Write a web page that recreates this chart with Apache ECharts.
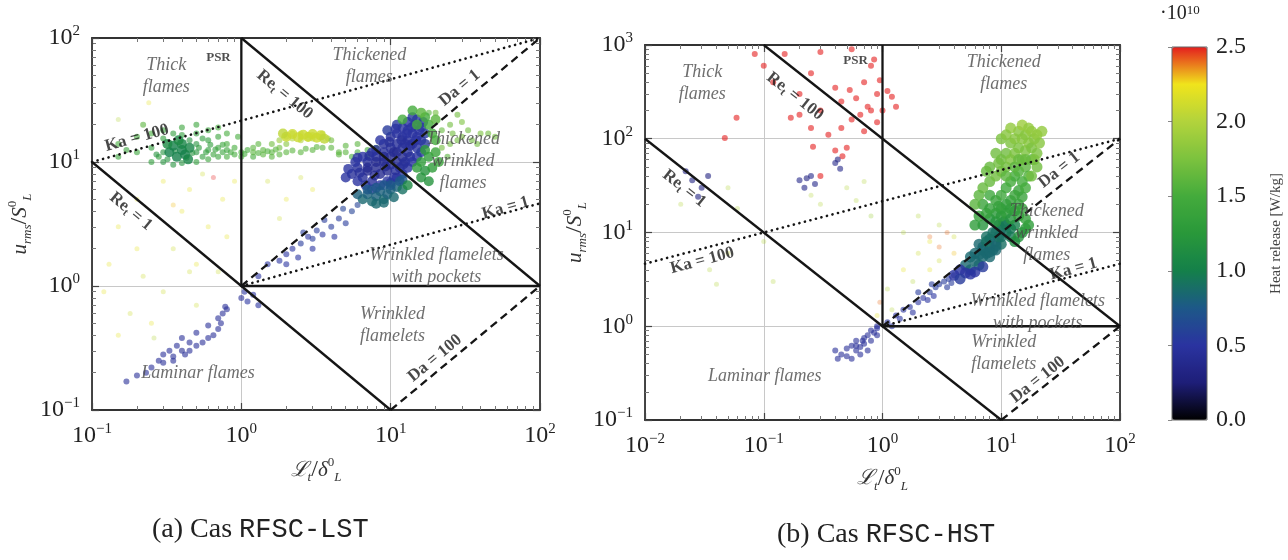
<!DOCTYPE html>
<html><head><meta charset="utf-8">
<script src="https://cdn.jsdelivr.net/npm/echarts@6/dist/echarts.min.js"></script>
<style>html,body{margin:0;padding:0;background:#fff}#c{width:1288px;height:560px}</style>
</head><body><div id="c"></div>
<script>
// ---------------- DATA ----------------
// axis ranges (log scale)
const xRangeA = [0.1, 100], yRangeA = [0.1, 100];
const xRangeB = [0.01, 100], yRangeB = [0.1, 1000];
const heatRange = [0, 2.5];          // heat release, x 1e10 W/kg
const heatTicks = [0, 0.5, 1, 1.5, 2, 2.5];

// regime boundaries: [name, dash, [[x,y],[x,y]]]
const boundariesA = [
  ['Re_t = 1', 'solid', [[0.1, 10], [10, 0.1]]],
  ['Re_t = 100', 'solid', [[1, 100], [100, 1]]],
  ['PSR', 'solid', [[1, 1], [1, 100]]],
  ['flamelet', 'solid', [[1, 1], [100, 1]]],
  ['Da = 1', 'dashed', [[1, 1], [100, 100]]],
  ['Da = 100', 'dashed', [[10, 0.1], [100, 1]]],
  ['Ka = 1', 'dotted', [[1, 1], [100, 4.64]]],
  ['Ka = 100', 'dotted', [[0.1, 10], [100, 100]]]
];
const boundariesB = [
  ['Re_t = 1', 'solid', [[0.01, 100], [10, 0.1]]],
  ['Re_t = 100', 'solid', [[0.1, 1000], [100, 1]]],
  ['PSR', 'solid', [[1, 1], [1, 1000]]],
  ['flamelet', 'solid', [[1, 1], [100, 1]]],
  ['Da = 1', 'dashed', [[1, 1], [100, 100]]],
  ['Da = 100', 'dashed', [[10, 0.1], [100, 1]]],
  ['Ka = 1', 'dotted', [[1, 1], [100, 4.64]]],
  ['Ka = 100', 'dotted', [[0.01, 4.64], [100, 100]]]
];

// regime labels: [text, x, y, kind]
const labelsA = [
  ['Thick\nflames', 0.314, 49, 'regime'],
  ['PSR', 0.703, 69, 'psr'],
  ['Thickened\nflames', 7.2, 59, 'regime'],
  ['Re{s|t} = 100', 1.95, 34.9, 're'],
  ['Re{s|t} = 1', 0.182, 3.99, 're'],
  ['Ka = 100', 0.2, 15.6, 'ka'],
  ['Da = 1', 29, 39.5, 'da'],
  ['Thickened\nwrinkled\nflames', 30.5, 10.1, 'regime'],
  ['Ka = 1', 58.8, 4.25, 'ka'],
  ['Wrinkled flamelets\nwith pockets', 20.3, 1.44, 'regime'],
  ['Wrinkled\nflamelets', 10.3, 0.485, 'regime'],
  ['Da = 100', 19.8, 0.261, 'da'],
  ['Laminar flames', 0.513, 0.198, 'regime']
];
const labelsB = [
  ['Thick\nflames', 0.0303, 394, 'regime'],
  ['PSR', 0.594, 683, 'psr'],
  ['Thickened\nflames', 10.5, 505, 'regime'],
  ['Re{s|t} = 100', 0.183, 284, 're'],
  ['Re{s|t} = 1', 0.0214, 29.4, 're'],
  ['Ka = 100', 0.0303, 5.0, 'ka'],
  ['Da = 1', 30.8, 46.3, 'da'],
  ['Thickened\nwrinkled\nflames', 24.2, 9.7, 'regime'],
  ['Ka = 1', 40.6, 4.07, 'ka'],
  ['Wrinkled flamelets\nwith pockets', 20.3, 1.4, 'regime'],
  ['Wrinkled\nflamelets', 10.5, 0.52, 'regime'],
  ['Da = 100', 20.3, 0.268, 'da'],
  ['Laminar flames', 0.102, 0.292, 'regime']
];

// ---- case (a) RFSC-LST points: [Lt/dL, urms/SL, heat release] ----
const coreA = [
  [5.5,8,0.45],[6,9,0.45],[6.5,7.5,0.45],[7,8.5,0.4],[7,10,0.45],[7.5,7,0.45],[8,9,0.4],[8,11,0.45],[8.5,8,0.4],[9,10,0.4],
  [9,12,0.45],[9.5,8.5,0.4],[10,9.5,0.4],[10,11,0.4],[10,13,0.45],[10.5,7.5,0.45],[11,10,0.4],[11,12,0.4],[11,14,0.45],[11.5,9,0.45],
  [12,11,0.4],[12,13,0.45],[12,16,0.45],[12.5,10,0.45],[13,12,0.45],[13,15,0.45],[13,18,0.5],[13.5,11,0.45],[14,14,0.45],[14,17,0.5],
  [14.5,20,0.5],[15,13,0.5],[15,16,0.5],[16,15,0.5],[16,19,0.55],[17,14,0.55],[17,17,0.55],[6,7,0.5],[6.8,6.5,0.5],[7.5,6,0.55],
  [8.5,6.5,0.5],[9.5,7,0.5],[10,6.8,0.55],[11,7.5,0.5],[12,8,0.5],[13,9,0.5],[14,10,0.5],[15,11,0.5],[16,12,0.55],[8,12.5,0.45],
  [9,14,0.45],[10,16,0.45],[11,17,0.5],[12,19,0.5],[13,21,0.5],[14,23,0.55],[15,22,0.55],[5,7.5,0.5],[5.8,10,0.5],[6.5,11,0.5],
  [7.5,12,0.5],[8.5,15,0.5],[9.5,18,0.55],[11,20,0.55],[12.5,14,0.45],[10.5,12,0.4],[9,11,0.4],[8,10,0.4],[7,9,0.4],
  [6.2,8.2,0.45],[7.8,7.8,0.4],[9.2,9.2,0.4],[10.8,8.6,0.45],[12.2,9.6,0.45],[13.5,13.5,0.45],[14.8,15,0.5],[15.5,18,0.5],[11.8,15,0.45],[9.8,14.5,0.45],
  [5.2,8.8,0.5],[6,10.8,0.5],[7.2,11.2,0.45],[16.5,21,0.55],[13.8,19,0.5],[12.8,17,0.5],[10.8,18.5,0.5],
  [6.5,5,0.85],[7,5.5,0.8],[7.5,4.8,0.85],[8,5.3,0.8],[8.5,5.8,0.8],[9,5,0.85],[9.5,5.5,0.8],[10,6,0.8],[10.5,5.2,0.85],[11,6.3,0.8],
  [7,6,0.75],[8,6.2,0.75],[9,6.5,0.75],[10,6.5,0.75],[11.5,7,0.75],[12,7.2,0.75],[6,5.5,0.8],[8,4.6,0.85],[9,4.7,0.85],[12,6,0.9],
  [15,9,1.3],[16,10,1.3],[17,8.5,1.2],[18,11,1.3],[19,9,1.3],[20,12,1.4],[18,7,1.2],[17,12.5,1.3],[20,15,1.5],[21,10,1.4],
  [16,7.5,1.2],[15,20,1.5],[18,20,1.5],[20,22,1.6],[17,23,1.5],[19,17,1.5],[14,26,1.5],[16,25,1.6],[12,22,1.5],[13,6.5,1.1],
  [0.33,12,1.0],[0.35,13.5,1.0],[0.37,11,1.0],[0.4,12.5,1.0],[0.4,14,1.05],[0.42,11.5,1.0],[0.45,13,1.05],[0.38,15,1.1],[0.32,14,1.1],[0.44,10.5,1.05],
  [2,16,2.1],[2.2,16.8,2.1],[2.4,15.8,2.1],[2.6,16.6,2.1],[2.8,15.9,2.1],[3,16.8,2.1],[3.2,15.7,2.1],[3.4,16.4,2.1],[1.9,17,2.05],[3.6,15.4,2.05]
];
const sparseA = [
  [0.15,11,1.4],[0.15,14,1.5],[0.17,12.5,1.4],[0.2,12,1.4],[0.2,16,1.5],[0.22,20,1.6],[0.25,10,1.3],[0.25,13,1.3],[0.25,17,1.5],[0.28,11,1.3],
  [0.3,10,1.2],[0.3,12,1.2],[0.3,15.5,1.3],[0.3,18,1.4],[0.35,9.5,1.2],[0.35,17,1.3],[0.4,9.8,1.2],[0.4,16.5,1.3],[0.4,19,1.4],[0.45,15,1.2],
  [0.5,10,1.3],[0.5,12,1.2],[0.5,14,1.2],[0.5,17,1.3],[0.5,20,1.4],[0.55,11,1.3],[0.55,15.5,1.3],[0.6,10.5,1.4],[0.6,12.5,1.3],[0.6,15,1.3],
  [0.6,18,1.4],[0.65,11.5,1.4],[0.7,11,1.4],[0.7,13,1.4],[0.7,16,1.4],[0.7,19,1.5],[0.75,12,1.4],[0.8,11,1.5],[0.8,12.5,1.4],[0.8,14,1.5],
  [0.8,17,1.5],[0.9,11.5,1.5],[0.9,13,1.5],[1,11,1.5],[1,12,1.5],[1.1,12.5,1.5],[1.2,11,1.5],[1.2,12,1.6],[1.2,13,1.6],[1.4,11.5,1.6],
  [1.4,12.5,1.6],[1.6,11,1.6],[1.6,12,1.6],[1.6,14,1.7],[1.8,11.5,1.6],[1.8,13,1.7],[1.8,15,1.9],[2,12,1.6],[2,14,1.8],[2,16,2.0],
  [2.2,15.5,2.0],[2.2,17,2.0],[2.5,15,2.0],[2.5,16,2.0],[2.5,17,2.05],[2.5,12,1.6],[2.8,16.5,2.0],[2.8,15.5,2.0],[3,15.5,2.0],[3,16.5,2.05],
  [3,12.5,1.6],[3.3,16,2.0],[3.5,16,2.0],[3.5,17,2.0],[3.5,13,1.6],[3.8,15.5,1.95],[4,13,1.6],[4,15,1.7],[4.5,12,1.6],[5,12,1.6],
  [5,13.5,1.6],[5.5,11,1.5],[6,12,1.5],[6,14,1.6],[7,12.5,1.5],[7,11,1.5],[8,13,1.5],[4.5,11.5,1.6],[1.3,14,1.6],[0.95,16,1.5],
  [0.27,11.5,1.2],[0.32,10.5,1.2],[0.36,12.3,1.1],[0.43,10.8,1.2],[0.47,11.8,1.2],[0.52,13,1.25],[0.58,12,1.3],[0.62,13.8,1.3],[0.67,12.6,1.35],[0.75,13.8,1.4],
  [0.85,12,1.45],[1.05,11.6,1.5],[1.3,11.8,1.55],[1.5,12.2,1.55],[1.7,12.6,1.6],[2.2,12.4,1.6],[2.7,12.8,1.6],[3.2,13.2,1.6],
  [22,13,1.7],[25,14,1.7],[28,15,1.7],[30,16,1.75],[35,15,1.7],[40,17,1.75],[45,17,1.7],[25,20,1.7],[30,21,1.75],[20,25,1.7],
  [28,24,1.7],[50,16,1.7],[24,11,1.6],[26,17,1.7],[33,18,1.7],[38,14,1.7],[22,18,1.65],[18,25,1.6],
  [1.8,1.6,0.5],[2,1.8,0.5],[2.2,2,0.5],[2.5,2.2,0.55],[2.8,2.5,0.5],[3,2,0.5],[3.2,2.8,0.55],[3.5,2.6,0.5],[4,3,0.55],[4.5,3.5,0.55],
  [5,3.2,0.55],[5.5,4,0.6],[2.4,1.7,0.5],[3,2.4,0.55],[1.5,1.5,0.5],[1.3,1.2,0.5],[4.2,2.5,0.5],[6,4.5,0.6],[2.6,2.7,0.55],[3.6,3.4,0.55],
  [4.8,4.2,0.6],[2,1.5,0.5],
  [0.17,0.17,0.45],[0.2,0.19,0.45],[0.23,0.2,0.45],[0.25,0.22,0.45],[0.28,0.25,0.45],[0.3,0.28,0.45],[0.3,0.24,0.45],[0.33,0.3,0.45],[0.35,0.27,0.45],[0.37,0.33,0.45],
  [0.4,0.3,0.4],[0.4,0.38,0.45],[0.42,0.28,0.45],[0.45,0.35,0.45],[0.5,0.33,0.45],[0.5,0.42,0.45],[0.55,0.35,0.45],[0.6,0.48,0.45],[0.65,0.4,0.45],[0.7,0.55,0.45],
  [0.75,0.6,0.45],[0.8,0.65,0.45],[0.6,0.38,0.45],[0.7,0.45,0.45],[1,0.8,0.45],[1.05,0.9,0.5],[1.1,0.75,0.5],[1.2,0.85,0.5],[1.3,0.7,0.5],[0.35,0.25,0.45],
  [0.45,0.3,0.45],[0.73,0.5,0.45],[0.78,0.68,0.45]
];
const faintA = [
  [0.13,1.5,2.2],[0.15,3,2.2],[0.18,0.6,2.1],[0.2,5,2.2],[0.22,1.2,2.1],[0.25,0.5,2.2],[0.24,30,2.2],[0.3,7,2.2],[0.35,2,2.1],[0.4,4,2.2],
  [0.45,6,2.2],[0.5,1.5,2.2],[0.55,8,2.1],[0.6,3,2.2],[0.7,1.3,2.1],[0.75,5,2.2],[0.8,2.5,2.2],[0.9,7,2.2],[0.65,7.5,2.5],[0.3,0.9,2.1],
  [0.15,22,2.0],[0.12,0.9,2.2],[0.5,0.7,2.1],[1.5,7,2.1],[2,5,2.2],[2.5,7.5,2.1],[3,6,2.2],[0.2,2,2.2],[0.45,1.3,2.1],[0.26,0.38,2.0],
  [0.15,0.4,2.2],[0.35,4.5,2.3],[1.8,3.5,2.1]
];

// ---- case (b) RFSC-HST points ----
const coreB = [
  [5,4.5,0.85],[5.5,4,0.85],[6,5,0.85],[6.5,4.5,0.85],[7,5.5,0.85],[7.5,6,0.85],[8,7,0.85],[8.5,6.5,0.85],[9,8,0.85],[6,6,0.85],
  [7,7,0.85],[8,8.5,0.85],[9,10,0.9],[10,9,0.9],[10,11,0.9],[11,10,0.9],[11,12,0.95],[12,11,0.95],[8,5.5,0.85],[9,6.5,0.85],
  [10,7.5,0.9],[6.5,7.5,0.85],[7.5,9,0.9],[8.5,10,0.9],[9.5,12,0.95],[10.5,13,0.95],[5.5,5.5,0.85],[12,9,0.95],[13,12,1.0],[7,6.5,0.85],
  [6.5,5.8,0.85],[8,6.2,0.85],[9,7.2,0.85],[9.5,9,0.9],[7.5,8,0.9],
  [4.5,4,0.5],[5,3.7,0.5],[5.5,3.6,0.5],[6,3.8,0.5],[4,3.5,0.5],[7,4.3,0.55],[4.5,3.2,0.55],
  [7,12,1.2],[8,14,1.2],[9,13,1.2],[9,16,1.25],[10,15,1.25],[10,18,1.3],[11,16,1.3],[11,20,1.3],[12,14,1.2],[12,18,1.3],
  [12,22,1.35],[13,17,1.3],[13,25,1.4],[14,20,1.35],[14,28,1.4],[15,24,1.4],[6.5,15,1.35],[7,20,1.4],[8,18,1.35],[8,25,1.45],
  [9,22,1.4],[10,25,1.45],[11,30,1.45],[12,35,1.5],[13,40,1.5],[14,45,1.55],[15,35,1.5],[16,30,1.5],[16,50,1.6],[17,40,1.55],
  [18,60,1.6],[6,12,1.3],[7.5,16,1.35],[9.5,19,1.35],[14,15,1.3],[15,18,1.35],
  [7,30,1.65],[8,35,1.65],[9,40,1.7],[10,45,1.7],[10,60,1.7],[11,50,1.7],[11,70,1.7],[12,60,1.75],[12,90,1.75],[13,70,1.75],
  [13,100,1.8],[14,80,1.75],[14,120,1.8],[15,60,1.7],[15,100,1.8],[16,75,1.75],[16,110,1.8],[17,90,1.8],[18,80,1.75],[18,120,1.85],
  [19,100,1.8],[20,70,1.75],[20,110,1.85],[15,140,1.9],[12,130,1.85],[10,100,1.75],[9,70,1.7],[8,50,1.65],[6.5,25,1.6],[6,20,1.6],
  [7.5,45,1.65],[9.5,55,1.7],[11,110,1.8],[17,130,1.85],[19,60,1.75],[21,90,1.8],[20,50,1.7],[18,40,1.7],[22,120,1.85],[13,50,1.6],
  [16,60,1.65],[11,40,1.6],[14,60,1.65],
  [14,9,1.2],[15,10,1.2],[16,11,1.25],[13,8,1.15],[17,12,1.3],[16,14,1.35]
];
const sparseB = [
  [1.1,1.1,0.5],[1.3,1.3,0.5],[1.5,1.5,0.5],[1.7,1.6,0.5],[2,1.8,0.5],[2.2,2,0.5],[2.5,2.3,0.55],[2.8,2.6,0.55],[3,2.8,0.55],[3.3,3,0.55],
  [3.6,3.2,0.55],[4,3.5,0.55],[1.8,1.4,0.5],[2.4,1.9,0.5],[2.7,2.1,0.5],[3.5,2.6,0.55],[1.2,1.0,0.5],[0.9,0.95,0.5],[2,2.3,0.55],[2.6,2.8,0.55],
  [3.8,2.9,0.55],[1.4,1.2,0.5],
  [0.4,0.55,0.45],[0.45,0.5,0.45],[0.5,0.58,0.45],[0.5,0.48,0.45],[0.55,0.62,0.45],[0.6,0.55,0.45],[0.6,0.7,0.45],[0.65,0.6,0.45],[0.7,0.75,0.45],[0.7,0.65,0.45],
  [0.75,0.8,0.45],[0.8,0.7,0.45],[0.8,0.9,0.45],[0.85,0.85,0.45],[0.55,0.45,0.45],[0.65,0.5,0.45],[0.9,1.0,0.45],[0.9,0.8,0.45],[0.75,0.55,0.45],[0.42,0.45,0.45],
  [0.6,0.62,0.45],[0.68,0.7,0.45],
  [0.059,167,2.5],[0.047,102,2.5],[0.084,800,2.5],[0.1,600,2.5],[0.12,400,2.5],[0.169,167,2.5],[0.15,800,2.5],[0.26,82,2.5],[0.2,300,2.5],[0.25,500,2.5],
  [0.3,200,2.5],[0.3,40,2.5],[0.35,110,2.5],[0.3,840,2.5],[0.4,350,2.5],[0.45,250,2.5],[0.5,80,2.5],[0.53,331,2.5],[0.55,160,2.5],[0.6,270,2.5],
  [0.46,65,2.5],[0.7,400,2.5],[0.7,120,2.5],[0.75,220,2.5],[0.8,600,2.5],[0.85,700,2.5],[0.9,300,2.5],[1.1,324,2.5],[0.4,75,2.5],[0.25,130,2.5],
  [0.55,900,2.5],[0.65,180,2.5],[0.8,200,2.5],[0.9,150,2.5],[0.45,130,2.5],[0.2,180,2.5],[1.2,280,2.5],[1.3,220,2.5],[1.0,200,2.5],[0.95,420,2.5],
  [0.022,45,0.3],[0.025,36,0.3],[0.03,30,0.3],[0.028,24,0.3],[0.034,40,0.3],[0.2,36,0.35],[0.22,30,0.35],[0.25,40,0.35],[0.27,33,0.35],[0.23,38,0.3],
  [0.4,55,0.35],[0.44,48,0.35],[0.42,60,0.3]
];
const faintB = [
  [0.02,20,2.0],[0.05,30,2.0],[0.06,18,2.0],[0.3,20,2.0],[0.5,30,2.0],[0.7,35,2.0],[0.05,6,2.1],[0.1,8,2.0],[2,6,2.1],[2.5,8,2.2],
  [3,5,2.1],[1.5,10,2.0],[1.8,3,2.0],[1.2,1.5,2.0],[0.9,1.3,2.2],[3,12,2.0],[4,9,2.1],[2,15,2.0],[2.5,4,2.2],[2.5,9,2.4],
  [3.5,10,2.4],[3,7,2.4],[0.035,4,2.0],[0.25,25,2.0],[0.6,22,2.0],[0.8,15,1.9],[0.12,3,2.0],[1.5,4,2.2],[4,6,2.3],[1.1,2.5,2.0],
  [0.95,1.8,2.4],[0.04,2.8,2.0]
];

// ---------------- LAYOUT / STYLE ----------------
const SERIF = 'Liberation Serif';
const gA = {left: 92, top: 38, width: 448, height: 372};
const gB = {left: 645, top: 45, width: 475, height: 375};
const gC = {left: 1172, top: 47, width: 35, height: 373};
const heatColors = ['#000000', '#1e1e78', '#2a33a0', '#1d5888', '#14804a', '#29983a', '#44ab3c', '#7cc23e', '#b2d33c', '#f0e41c', '#e41e1e'];

function expLabel(v) {
  const e = Math.round(Math.log10(v));
  return '10{s|' + (e < 0 ? '\u2212' + (-e) : String(e)) + '}';
}
function decades(r) { return Math.log10(r[1]) - Math.log10(r[0]); }

const mathRich = {
  i: {fontFamily: SERIF, fontStyle: 'italic', fontSize: 21, lineHeight: 28, color: '#333'},
  b: {fontFamily: SERIF, fontStyle: 'italic', fontSize: 13, lineHeight: 13, verticalAlign: 'bottom', color: '#333'},
  p: {fontFamily: SERIF, fontSize: 13, lineHeight: 13, verticalAlign: 'top', color: '#333'},
  n: {fontFamily: SERIF, fontSize: 24, lineHeight: 28, color: '#333'}
};
const xName = '{i|\u2112}{b|t}{n|/}{i|\u03b4}{p|0}{b|L}';
const yName = '{i|u}{b|rms}{n|/}{i|S}{p|0}{b|L}';

function logAxis(gi, pos, range, main, name, nameGap) {
  const ax = {
    type: 'log', logBase: 10, gridIndex: gi, position: pos, min: range[0], max: range[1],
    axisLine: {show: true, onZero: false, lineStyle: {color: '#333', width: 1.8}},
    axisTick: {show: true, inside: true, length: 7, lineStyle: {color: '#444', width: 1.2}},
    minorTick: {show: true, splitNumber: 9, length: 4, lineStyle: {color: '#777', width: 1}},
    axisLabel: {
      show: main, margin: 12, formatter: expLabel, fontFamily: SERIF, fontSize: 24, lineHeight: 28, color: '#222',
      rich: {s: {fontFamily: SERIF, fontSize: 15, lineHeight: 14, verticalAlign: 'top', color: '#222'}}
    },
    splitLine: {show: main, lineStyle: {color: '#c8c8c8', width: 1}},
    silent: true
  };
  if (main && name) {
    ax.name = name; ax.nameLocation = 'middle'; ax.nameGap = nameGap;
    ax.nameTextStyle = {rich: mathRich};
  }
  return ax;
}

function lineSeries(list, gi) {
  return list.map(b => ({
    type: 'line', name: b[0], xAxisIndex: gi * 2, yAxisIndex: gi * 2, data: b[2],
    showSymbol: false, symbol: 'none', silent: true, z: 5, clip: false,
    lineStyle: {
      color: '#151515', width: b[1] === 'dotted' ? 2.6 : 2.3,
      type: b[1] === 'solid' ? 'solid' : (b[1] === 'dashed' ? [8, 5] : [0.1, 5.6]),
      cap: b[1] === 'dotted' ? 'round' : 'butt'
    }
  }));
}

function labelSeries(list, gi, g, xr, yr) {
  const dx = g.width / decades(xr), dy = g.height / decades(yr);
  const aRe = Math.atan(dy / dx) * 180 / Math.PI;
  const aKa = Math.atan(dy / 3 / dx) * 180 / Math.PI;
  const kindStyle = {
    regime: {fontFamily: SERIF, fontStyle: 'italic', fontSize: 18, lineHeight: 22, color: '#4a4a4a'},
    psr: {fontFamily: SERIF, fontWeight: 'bold', fontSize: 13, color: '#222'},
    line: {fontFamily: SERIF, fontWeight: 'bold', fontSize: 17, lineHeight: 20, color: '#1a1a1a'}
  };
  return {
    type: 'scatter', xAxisIndex: gi * 2, yAxisIndex: gi * 2, symbolSize: 1, silent: true, z: 8,
    itemStyle: {color: 'rgba(0,0,0,0)'},
    label: {show: true, position: 'inside', formatter: '{b}', align: 'center', verticalAlign: 'middle',
      rich: {s: {fontFamily: SERIF, fontWeight: 'bold', fontSize: 11, lineHeight: 12, verticalAlign: 'bottom', color: '#1a1a1a'}}},
    data: list.map(l => {
      const k = l[3];
      const rot = k === 're' ? -aRe : k === 'da' ? aRe : k === 'ka' ? aKa : 0;
      const st = k === 'regime' ? kindStyle.regime : k === 'psr' ? kindStyle.psr : kindStyle.line;
      return {name: l[0], value: [l[1], l[2]], label: Object.assign({rotate: rot}, st)};
    })
  };
}

function pointSeries(data, gi, size, opacity) {
  return {type: 'scatter', xAxisIndex: gi * 2, yAxisIndex: gi * 2, data: data, symbolSize: size,
    silent: true, z: 2, itemStyle: {opacity: opacity}};
}

const chart = echarts.init(document.getElementById('c'), null, {renderer: 'canvas'});
chart.setOption({
  animation: false,
  backgroundColor: '#ffffff',
  grid: [
    Object.assign({}, gA, {containLabel: false}),
    Object.assign({}, gB, {containLabel: false}),
    Object.assign({}, gC, {containLabel: false, show: true, borderColor: '#666', borderWidth: 1, z: 10})
  ],
  xAxis: [
    logAxis(0, 'bottom', xRangeA, true, xName, 46),
    logAxis(0, 'top', xRangeA, false),
    logAxis(1, 'bottom', xRangeB, true, xName, 44),
    logAxis(1, 'top', xRangeB, false),
    {type: 'value', gridIndex: 2, show: false, min: 0, max: 1}
  ],
  yAxis: [
    logAxis(0, 'left', yRangeA, true, yName, 58),
    logAxis(0, 'right', yRangeA, false),
    logAxis(1, 'left', yRangeB, true, yName, 44),
    logAxis(1, 'right', yRangeB, false),
    {
      type: 'value', gridIndex: 2, position: 'right', min: heatRange[0], max: heatRange[1], interval: heatTicks[1] - heatTicks[0],
      axisLine: {show: false}, axisTick: {show: true, inside: true, length: 4, lineStyle: {color: '#888'}},
      splitLine: {show: false},
      axisLabel: {margin: 9, fontFamily: SERIF, fontSize: 24, color: '#222', formatter: v => v.toFixed(1)},
      name: 'Heat release [W/kg]', nameLocation: 'middle', nameRotate: 90, nameGap: 62,
      nameTextStyle: {fontFamily: SERIF, fontSize: 15, color: '#444'}
    }
  ],
  visualMap: {
    type: 'continuous', min: heatRange[0], max: heatRange[1], dimension: 2,
    seriesIndex: [0, 1, 2, 3, 4, 5], orient: 'vertical', left: gC.left, top: gC.top,
    itemWidth: gC.width, itemHeight: gC.height, calculable: false, text: null, padding: 0,
    inRange: {color: heatColors}, hoverLink: false
  },
  series: [
    pointSeries(faintA, 0, 5, 0.3),
    pointSeries(sparseA, 0, 6, 0.6),
    pointSeries(coreA, 0, 10, 0.8),
    pointSeries(faintB, 1, 5, 0.3),
    pointSeries(sparseB, 1, 6, 0.6),
    pointSeries(coreB, 1, 11, 0.8)
  ].concat(lineSeries(boundariesA, 0), lineSeries(boundariesB, 1),
    [labelSeries(labelsA, 0, gA, xRangeA, yRangeA), labelSeries(labelsB, 1, gB, xRangeB, yRangeB)]),
  graphic: [
    {type: 'text', left: 152, top: 516, style: {text: '(a) Cas {m|RFSC-LST}', fontFamily: SERIF, fontSize: 28, fill: '#222',
      rich: {m: {fontFamily: 'Liberation Mono', fontSize: 27, fill: '#222'}}}},
    {type: 'text', left: 777, top: 521, style: {text: '(b) Cas {m|RFSC-HST}', fontFamily: SERIF, fontSize: 28, fill: '#222',
      rich: {m: {fontFamily: 'Liberation Mono', fontSize: 27, fill: '#222'}}}},
    {type: 'text', left: 1160, top: 4, style: {text: '\u00b710{s|10}', fontFamily: SERIF, fontSize: 20, fill: '#222',
      rich: {s: {fontFamily: SERIF, fontSize: 13, verticalAlign: 'top', lineHeight: 12, fill: '#222'}}}}
  ]
});
</script>
</body></html>
